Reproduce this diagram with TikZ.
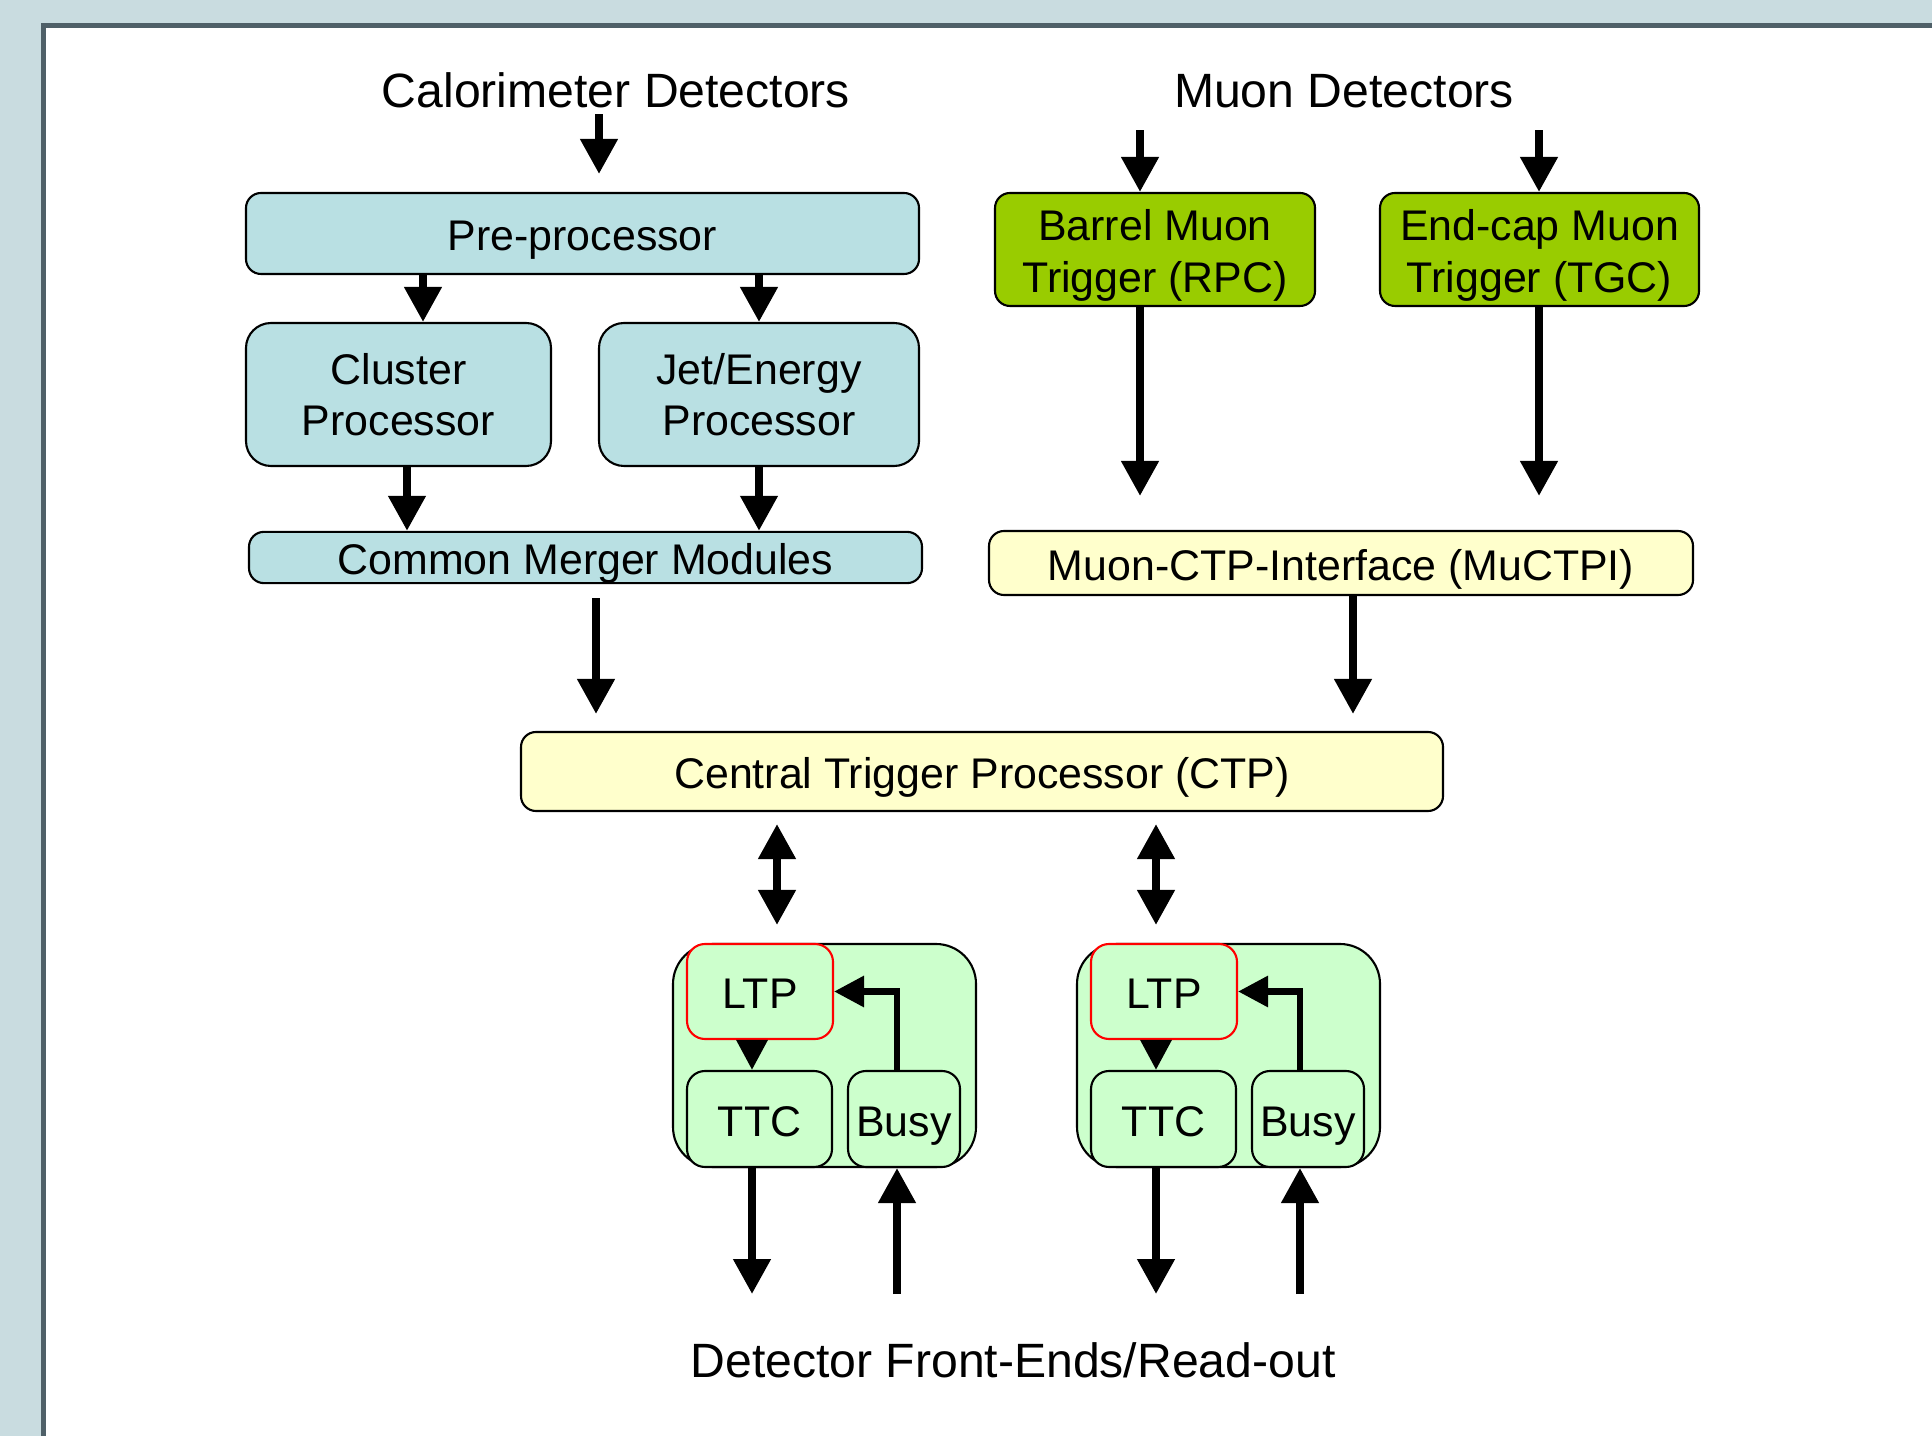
\documentclass[tikz,border=0pt]{standalone}
\usepackage{fontspec}
\setmainfont{Liberation Sans}
\usetikzlibrary{positioning, arrows.meta}

\definecolor{slidebg}{HTML}{C9DCE0}
\definecolor{slideedge}{HTML}{4F6068}
\definecolor{caloblue}{HTML}{B9E0E3}
\definecolor{muongreen}{HTML}{99CC00}
\definecolor{ctpyellow}{HTML}{FFFFCC}
\definecolor{ltpgreen}{HTML}{CCFFCC}

\begin{document}
\begin{tikzpicture}[
    every node/.style={font=\fontsize{12.2}{14.64}\selectfont},
    title/.style={font=\fontsize{13.7}{16.4}\selectfont},
    box/.style={rectangle, draw=black, line width=0.6pt, rounded corners=0.15cm,
                align=center, inner sep=0pt},
    oneline/.style={text height=12.2pt, text depth=2.4pt},
    calobox/.style={box, fill=caloblue},
    muonbox/.style={box, fill=muongreen, minimum width=3.2cm, minimum height=1.13cm,
                    text height=26.84pt, text depth=2.4pt},
    ctpbox/.style={box, oneline, fill=ctpyellow},
    groupbox/.style={box, fill=ltpgreen, rounded corners=0.4cm,
                     minimum width=3.03cm, minimum height=2.23cm},
    ltpbox/.style={box, oneline, fill=ltpgreen, draw=red, rounded corners=0.18cm,
                   minimum width=1.46cm, minimum height=0.95cm},
    subbox/.style={box, oneline, fill=ltpgreen, rounded corners=0.18cm, minimum height=0.96cm},
    arrow/.style={line width=2.2pt, -{Triangle[length=0.35cm, width=0.36cm]}},
    twoarrow/.style={line width=2.2pt,
                     {Triangle[length=0.35cm, width=0.36cm]}-{Triangle[length=0.35cm, width=0.36cm]}},
    smallarrow/.style={line width=1.8pt, -{Triangle[length=0.3cm, width=0.3cm]}}
]
    % slide frame
    \useasboundingbox (0,0) rectangle (19.32,-14.36);
    \fill[slidebg] (0,0) rectangle (19.32,-14.36);
    \fill[slideedge] (0.41,-0.23) rectangle (19.32,-14.36);
    \fill[white] (0.46,-0.28) rectangle (19.32,-14.36);

    % calorimeter branch
    \node [title] (calo) at (6.16,-0.90) {Calorimeter Detectors};
    \node [calobox, oneline, minimum width=6.73cm, minimum height=0.81cm] (pre) at (5.825,-2.335) {Pre-processor};
    \node [calobox, rounded corners=0.25cm, minimum width=3.05cm, minimum height=1.43cm] (cluster) at (3.985,-3.945) {Cluster\\Processor};
    \node [calobox, rounded corners=0.25cm, minimum width=3.2cm, minimum height=1.43cm] (jet) at (7.59,-3.945) {Jet/Energy\\Processor};
    \node [calobox, oneline, minimum width=6.73cm, minimum height=0.49cm] (cmm) at (5.855,-5.575) {Common Merger Modules};

    % muon branch
    \node [title] (muon) at (13.44,-0.91) {Muon Detectors};
    \node [muonbox] (barrel) at (11.55,-2.495) {Barrel Muon\\Trigger (RPC)};
    \node [muonbox, minimum width=3.19cm] (endcap) at (15.395,-2.495) {End-cap Muon\\Trigger (TGC)};
    \node [ctpbox, minimum width=7.04cm, minimum height=0.64cm] (muctpi) at (13.41,-5.63) {Muon-CTP-Interface (MuCTPI)};

    % central trigger
    \node [ctpbox, minimum width=9.22cm, minimum height=0.79cm] (ctp) at (9.82,-7.715) {Central Trigger Processor (CTP)};

    % local trigger groups
    \node [groupbox] (grpA) at (8.245,-10.555) {};
    \node [ltpbox] (ltpA) at (7.60,-9.915) {LTP};
    \node [subbox, minimum width=1.45cm] (ttcA) at (7.595,-11.19) {TTC};
    \node [subbox, minimum width=1.12cm] (busyA) at (9.04,-11.19) {Busy};

    \node [groupbox] (grpB) at (12.285,-10.555) {};
    \node [ltpbox] (ltpB) at (11.64,-9.915) {LTP};
    \node [subbox, minimum width=1.45cm] (ttcB) at (11.635,-11.19) {TTC};
    \node [subbox, minimum width=1.12cm] (busyB) at (13.08,-11.19) {Busy};

    \node [title] (fe) at (10.13,-13.60) {Detector Front-Ends/Read-out};
    \coordinate (outA) at (7.52,-12.94);
    \coordinate (inA) at (8.97,-12.94);
    \coordinate (outB) at (11.56,-12.94);
    \coordinate (inB) at (13.00,-12.94);

    % connections
    \draw [arrow, shorten <=-0.06cm, shorten >=0.18cm] (calo.south -| 5.99,0) -- (pre.north -| 5.99,0);
    \draw [arrow, shorten <=0.1cm] (muon.south -| 11.40,0) -- (barrel.north -| 11.40,0);
    \draw [arrow, shorten <=0.1cm] (muon.south -| 15.39,0) -- (endcap.north -| 15.39,0);
    \draw [arrow] (pre.south -| 4.23,0) -- (cluster.north -| 4.23,0);
    \draw [arrow] (pre.south -| jet.north) -- (jet.north);
    \draw [arrow] (cluster.south -| 4.07,0) -- (cmm.north -| 4.07,0);
    \draw [arrow] (jet.south) -- (cmm.north -| jet.south);
    \draw [arrow, shorten <=0.14cm, shorten >=0.17cm] (cmm.south -| 5.96,0) -- (ctp.north -| 5.96,0);
    \draw [arrow, shorten >=0.34cm] (barrel.south -| 11.40,0) -- (muctpi.north -| 11.40,0);
    \draw [arrow, shorten >=0.34cm] (endcap.south -| 15.39,0) -- (muctpi.north -| 15.39,0);
    \draw [arrow, shorten >=0.17cm] (muctpi.south -| 13.53,0) -- (ctp.north -| 13.53,0);
    \draw [twoarrow, shorten <=0.12cm, shorten >=0.18cm] (ctp.south -| 7.77,0) -- (ltpA.north -| 7.77,0);
    \draw [twoarrow, shorten <=0.12cm, shorten >=0.18cm] (ctp.south -| 11.56,0) -- (ltpB.north -| 11.56,0);

    \draw [smallarrow] (ltpA.south -| 7.52,0) -- (ttcA.north -| 7.52,0);
    \draw [smallarrow] (busyA.north -| 8.97,0) |- (ltpA.east);
    \draw [arrow] (ttcA.south -| outA) -- (outA);
    \draw [arrow] (inA) -- (busyA.south -| inA);

    \draw [smallarrow] (ltpB.south -| 11.56,0) -- (ttcB.north -| 11.56,0);
    \draw [smallarrow] (busyB.north -| 13.00,0) |- (ltpB.east);
    \draw [arrow] (ttcB.south -| outB) -- (outB);
    \draw [arrow] (inB) -- (busyB.south -| inB);
\end{tikzpicture}
\end{document}
